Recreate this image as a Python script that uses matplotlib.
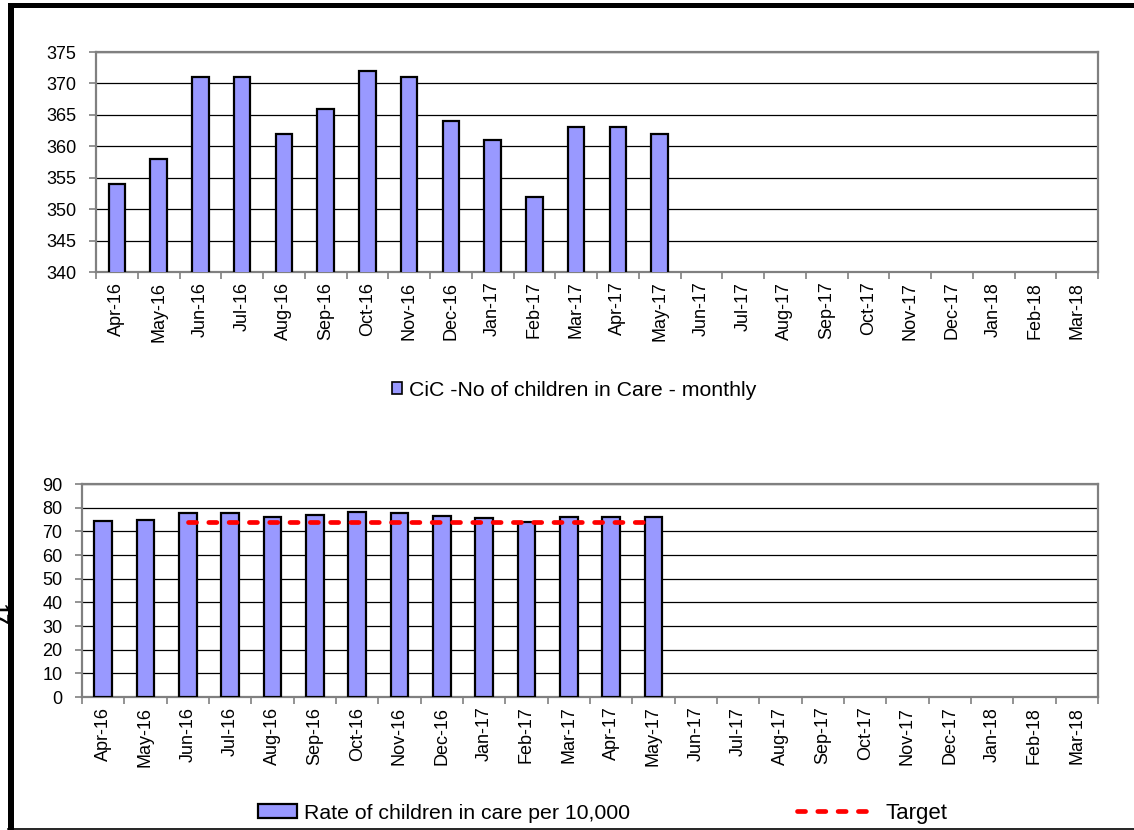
import matplotlib
matplotlib.use("Agg")
import matplotlib.pyplot as plt
from matplotlib.patches import Rectangle, Patch
from matplotlib.lines import Line2D
import numpy as np

plt.rcParams['font.family'] = ['Liberation Sans', 'DejaVu Sans']

# months shown on both charts (Apr-16 .. Mar-18)
months = ['Apr-16', 'May-16', 'Jun-16', 'Jul-16', 'Aug-16', 'Sep-16', 'Oct-16', 'Nov-16',
          'Dec-16', 'Jan-17', 'Feb-17', 'Mar-17', 'Apr-17', 'May-17', 'Jun-17', 'Jul-17',
          'Aug-17', 'Sep-17', 'Oct-17', 'Nov-17', 'Dec-17', 'Jan-18', 'Feb-18', 'Mar-18']

# number of children in care, monthly (only filled up to May-17)
cic_count = [354, 358, 371, 371, 362, 366, 372, 371, 364, 361, 352, 363, 363, 362]

# rate per 10,000
cic_rate = [74.2, 75.0, 77.7, 77.7, 75.9, 76.7, 78.0, 77.7, 76.3, 75.7, 73.8, 76.1, 76.1, 75.9]

# target line, from Jun-16 to May-17
target_months = months[2:14]
target_vals = [74] * len(target_months)

BAR = '#9999FF'
SPINE = '#808080'
FS = 13
LFS = 15.3

fig = plt.figure(figsize=(11.34, 8.3), dpi=100)


def style_axes(ax, ymin, ymax, step):
    x = np.arange(len(months))
    ax.set_xlim(-0.5, len(months) - 0.5)
    ax.set_ylim(ymin, ymax)
    ax.set_yticks(np.arange(ymin, ymax + 1, step))
    ax.set_xticks(x)
    ax.set_xticklabels(months, rotation=90, fontsize=FS)
    ax.set_xticks(np.arange(-0.5, len(months)), minor=True)
    ax.tick_params(axis='x', which='major', length=0, pad=7)
    ax.tick_params(axis='x', which='minor', length=5, color=SPINE, width=1.2)
    ax.tick_params(axis='y', length=5, color=SPINE, width=1.2, labelsize=FS, pad=9)
    for s in ax.spines.values():
        s.set_color(SPINE)
        s.set_linewidth(1.6)
    ax.yaxis.grid(True, color='black', linewidth=0.9)
    ax.set_axisbelow(True)


# top: counts
ax1 = fig.add_axes([96 / 1134, 1 - 272 / 830, (1098 - 96) / 1134, 220 / 830])
style_axes(ax1, 340, 375, 5)
ax1.bar(months[:len(cic_count)], cic_count, width=0.4, color=BAR,
        edgecolor='black', linewidth=1.6, zorder=3)
ax1.set_xlim(-0.5, len(months) - 0.5)
ax1.set_ylim(340, 375)

fig.legend(handles=[Patch(facecolor=BAR, edgecolor='black', linewidth=1.2,
                          label='CiC -No of children in Care - monthly')],
           loc='center left', bbox_to_anchor=(392 / 1134, 1 - 390 / 830),
           frameon=False, fontsize=LFS, borderpad=0, borderaxespad=0,
           handlelength=0.48, handleheight=0.48, handletextpad=0.3)

# bottom: rate with target
ax2 = fig.add_axes([82 / 1134, 1 - 697 / 830, (1098 - 82) / 1134, 213 / 830])
style_axes(ax2, 0, 90, 10)
ax2.bar(months[:len(cic_rate)], cic_rate, width=0.41, color=BAR,
        edgecolor='black', linewidth=1.6, zorder=3)
ax2.plot(target_months, target_vals, color='red', linewidth=3.4,
         dashes=(1.7, 2.6), dash_capstyle='round', zorder=4)
ax2.set_xlim(-0.5, len(months) - 0.5)
ax2.set_ylim(0, 90)

fig.legend(handles=[Patch(facecolor=BAR, edgecolor='black', linewidth=1.6,
                          label='Rate of children in care per 10,000')],
           loc='center left', bbox_to_anchor=(258 / 1134, 1 - 813 / 830),
           frameon=False, fontsize=LFS, borderpad=0, borderaxespad=0,
           handlelength=1.85, handleheight=0.6, handletextpad=0.3)
fig.legend(handles=[Line2D([], [], color='red', linewidth=3.4, dashes=(1.7, 2.6),
                           dash_capstyle='round', label='Target')],
           loc='center left', bbox_to_anchor=(797 / 1134, 1 - 813 / 830),
           frameon=False, fontsize=LFS + 0.7, borderpad=0, borderaxespad=0,
           handlelength=3.4, handletextpad=0.6)

# page border and page number
fig.add_artist(Rectangle((8 / 1134, 0), 6 / 1134, 1 - 3 / 830, transform=fig.transFigure,
                         facecolor='black', edgecolor='none'))
fig.add_artist(Rectangle((8 / 1134, 1 - 8 / 830), 1 - 8 / 1134, 5 / 830,
                         transform=fig.transFigure, facecolor='black', edgecolor='none'))
fig.add_artist(Line2D([8 / 1134, 1], [1.5 / 830, 1.5 / 830], transform=fig.transFigure,
                      color='black', linewidth=1.2))
fig.text(-2 / 1134, 1 - 615 / 830, '17', rotation=270, fontsize=14, fontweight='bold',
         ha='center', va='center')

fig.savefig('out.png', dpi=100)
